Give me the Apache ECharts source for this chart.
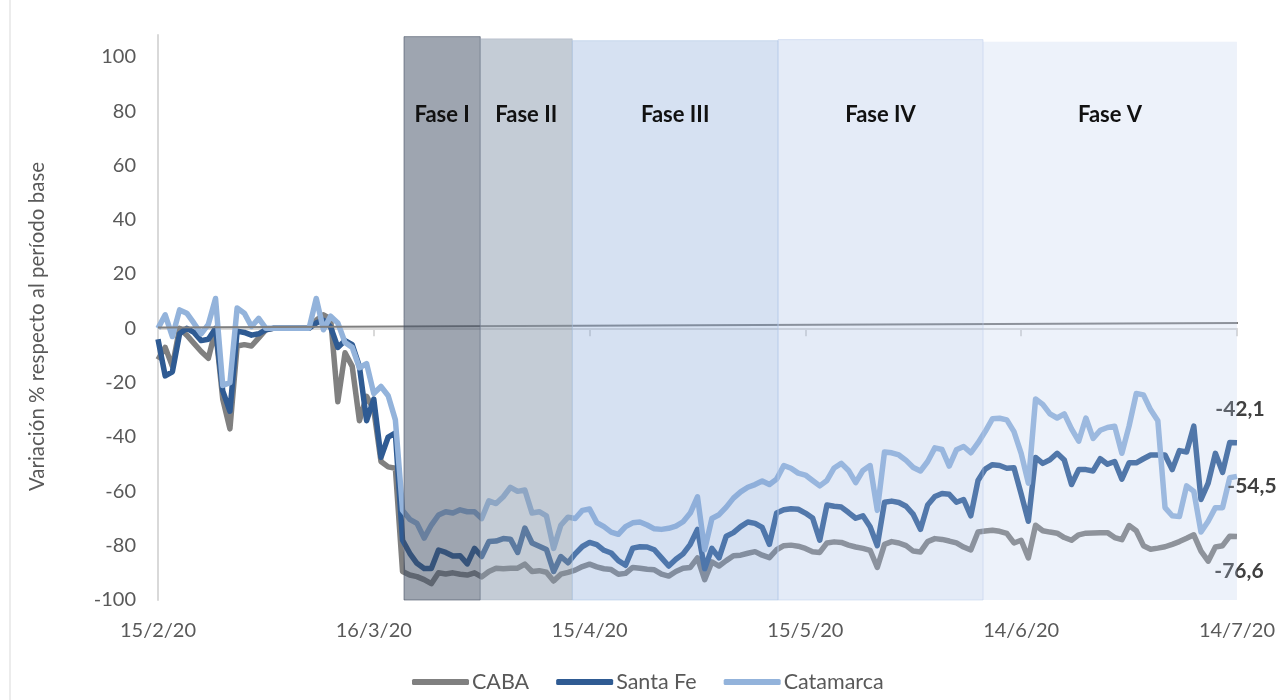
<!DOCTYPE html>
<html>
<head>
<meta charset="utf-8">
<script src="https://cdn.jsdelivr.net/npm/echarts@6/dist/echarts.min.js"></script>
<style>
  html, body { margin: 0; padding: 0; background: #fff; }
  #chart { width: 1278px; height: 700px; }
</style>
</head>
<body>
<div id="chart"></div>
<script>
// daily values, day 0 = 15/2/20 ... day 150 = 14/7/20
var caba = [
  -11.5, -7, -14, 0, -2.5, -5.5, -8.5, -11, -0.5, -26,
  -37, -6.5, -6, -6.5, -3.5, -0.5, 0, 0, 0, 0,
  0, 0, 3, 5, 3.5, -27, -9, -14, -34, -25,
  -30, -49, -51, -51.5, -89.5, -90.8, -91.4, -92.5, -94, -90,
  -90.4, -90, -90.5, -90.8, -90, -91.5, -89.5, -88.3, -88.5, -88.3,
  -88.3, -86.8, -89.5, -89.2, -89.8, -93, -90.5, -89.8, -89, -87.7,
  -86.8, -87.8, -88.5, -88.8, -90.5, -90.2, -88, -88.3, -88.7, -88.9,
  -90.5, -91.2, -89.5, -88.3, -88, -84.5, -92.5, -86, -87.5, -85.5,
  -83.7, -83.5, -82.8, -82.2, -83.5, -84.4, -81.5, -80, -79.8, -80.2,
  -81, -82.2, -82.5, -79, -78.6, -78.8, -79.8, -80.5, -81, -81.7,
  -88, -79.5, -78.5, -79, -80, -82, -82.3, -78.5, -77.4, -77.7,
  -78.3, -79, -80.5, -81.6, -75, -74.6, -74.3, -74.7, -75.5, -79,
  -78, -84.5, -72.5, -74.5, -75, -75.4, -77, -78, -76, -75.4,
  -75.3, -75.2, -75.2, -77, -77.8, -72.6, -74.5, -80, -81.3, -80.9,
  -80.4, -79.5, -78.5, -77.3, -76, -82, -85.7, -80.5, -80, -76.5,
  -76.6
];
var santaFe = [
  -4, -17.5, -16, -2, 0, -1.5, -4.5, -4, 0, -23,
  -30.5, -1, -1.5, -2.5, -2, -0.5, 0, 0, 0, 0,
  0, 0, 2, 3, 0.5, -7, -4.5, -6, -14, -34,
  -26, -47.5, -40, -38.5, -78, -82.8, -86.5, -88.4, -88.4, -81.6,
  -82.5, -83.8, -83.7, -86.7, -81, -84, -78.5, -78.3, -77.4, -77.6,
  -82.5, -73.5, -79, -80.2, -81.4, -89.5, -84, -86.3, -83, -80.3,
  -78.8, -79.6, -81.7, -82.7, -85.5, -87.2, -80.9, -80.4, -80.5, -81.5,
  -84.5, -87.5, -85, -83, -79.5, -74, -88.5, -81, -84.5, -76.5,
  -75.2, -73, -71.3, -71.8, -73.3, -79.5, -68, -66.8, -66.4, -66.6,
  -68, -69.8, -78, -65, -65.5, -65.8, -67.8, -69.9, -69, -73,
  -80, -64, -63.6, -64.1, -65.5, -68.5, -74, -65, -61.9, -60.8,
  -61.1, -64, -63, -69, -56, -51.8, -50.2, -50.5, -51.5, -51.3,
  -61, -71, -47.5, -49.7, -48.4, -46, -48.5, -57.5, -52, -52,
  -52.5, -48, -50, -49, -55.5, -49.5, -49.5, -48, -46.6, -46.6,
  -46.6, -52, -45, -45.5, -36, -63, -57, -46, -53, -42,
  -42.1
];
var catamarca = [
  0, 5, -3, 6.8, 5.6, 1.9, -2, 1.5, 11, -21,
  -20, 7.5, 5.6, 0.7, 3.7, 0, 0, 0, 0, 0,
  0, 0, 11, -0.5, 4.5, 2, -5.2, -7, -14.5, -13,
  -24, -21.4, -24.8, -33.7, -67, -70.3, -71.8, -77.2, -72.4, -68.7,
  -67.5, -68, -66.8, -67.5, -67.5, -70, -63.5, -64.5, -62, -58.5,
  -60, -59.5, -68, -67.5, -69, -81, -72.5, -69.5, -70, -67,
  -66.5, -71.5, -73, -75, -75.8, -73, -71.6, -71.3, -72.4, -73.8,
  -74, -73.6, -72.8, -71.2, -68, -62, -81.5, -70, -68.6, -65.8,
  -62.5, -60.2, -58.5, -57.5, -56.2, -57.5, -55.5, -50.5, -51.5, -53.3,
  -54, -56, -58, -56, -51.4, -49.7, -52.3, -56.8, -52.3, -50.5,
  -67, -45.5, -45.8, -46.6, -48.6, -51.2, -52.5, -49, -44, -44.6,
  -50.7, -44.7, -43.5, -45.8, -42.2, -38, -33.3, -33.1, -33.7, -38,
  -46, -57, -26, -28, -31.5, -33, -31.5, -37, -41.5, -33,
  -40.5, -37.5, -36.5, -36, -46, -36, -24, -24.5, -30, -34,
  -66, -69, -69.3, -58, -60, -75, -71, -66, -66, -55,
  -54.5
];
var seriesNames = ['CABA', 'Santa Fe', 'Catamarca'];
var tickLabels = ['15/2/20', '16/3/20', '15/4/20', '15/5/20', '14/6/20', '14/7/20'];
// phases in day units
var phaseNames = ['Fase I', 'Fase II', 'Fase III', 'Fase IV', 'Fase V'];
var phaseStart = [34.2, 44.8, 57.6, 86.2, 114.7];
var phaseEnd = [44.8, 57.6, 86.2, 114.7, 150.4];
var phaseTop = [107.4, 106.6, 105.9, 106.3, 105.5];
// reference line (day, value)
var zeroLine = [[0, 0.3], [154.6, 2]];

var colors = ['#808080', '#2f5b93', '#93b3db'];
var phaseColors = ['rgba(62,76,98,0.5)', 'rgba(137,153,173,0.5)', 'rgba(138,169,218,0.35)',
                   'rgba(165,188,228,0.3)', 'rgba(183,203,235,0.25)'];
var phaseBorders = ['rgba(70,80,100,0.6)', 'rgba(150,160,175,0.3)', 'rgba(170,195,230,0.5)',
                    'rgba(190,208,235,0.5)', 'rgba(0,0,0,0)'];
var endOffsets = [[2, 35], [3, -33], [15, 10]];

var font = 'Lato, "Open Sans", sans-serif';
var gridTop = 35, gridBottom = 100, yMin = -100, yMax = 108;
var pxPerUnit = (700 - gridTop - gridBottom) / (yMax - yMin);
var labelTopPx = 104; // all phase titles on one line

function toPoints(vals) {
  return vals.map(function (v, i) { return [i, v]; });
}

var chart = echarts.init(document.getElementById('chart'));

var lineSeries = [caba, santaFe, catamarca].map(function (vals, k) {
  return {
    name: seriesNames[k],
    type: 'line',
    data: toPoints(vals),
    showSymbol: false,
    symbol: 'none',
    z: 2,
    lineStyle: { width: 5.5, color: colors[k], join: 'round' },
    itemStyle: { color: colors[k] },
    endLabel: {
      show: true,
      align: 'center',
      verticalAlign: 'middle',
      distance: 0,
      offset: endOffsets[k],
      color: '#404040',
      fontFamily: font,
      fontWeight: 'bold',
      fontSize: 21,
      formatter: function (p) { return p.value[1].toFixed(1).replace('.', ','); }
    }
  };
});

var areas = phaseNames.map(function (n, i) {
  var topPx = gridTop + (yMax - phaseTop[i]) * pxPerUnit;
  return [
    {
      name: n,
      xAxis: phaseStart[i],
      yAxis: -100,
      itemStyle: { color: phaseColors[i], borderColor: phaseBorders[i], borderWidth: 1 },
      label: { distance: labelTopPx - topPx }
    },
    { xAxis: phaseEnd[i], yAxis: phaseTop[i] }
  ];
});

var option = {
  backgroundColor: '#fff',
  animation: false,
  grid: { left: 158, right: 41, top: gridTop, bottom: gridBottom },
  legend: {
    data: seriesNames,
    left: 412,
    top: 671,
    icon: 'roundRect',
    itemWidth: 57,
    itemHeight: 6,
    itemGap: 27,
    padding: 0,
    textStyle: { color: '#595959', fontSize: 21.5, fontFamily: font, padding: [0, 0, 0, -2] }
  },
  xAxis: {
    type: 'value',
    min: 0,
    max: 150,
    interval: 30,
    axisLine: { show: true, lineStyle: { color: '#d9d9d9', width: 2 } },
    axisTick: { show: true, length: 8, lineStyle: { color: '#d9d9d9', width: 2 } },
    splitLine: { show: false },
    axisLabel: {
      color: '#595959',
      fontSize: 20,
      fontFamily: font,
      margin: 21,
      formatter: function (v) { return tickLabels[Math.round(v / 30)]; }
    }
  },
  yAxis: {
    type: 'value',
    min: yMin,
    max: yMax,
    interval: 20,
    name: 'Variación % respecto al período base',
    nameLocation: 'middle',
    nameGap: 110,
    nameTextStyle: { color: '#595959', fontSize: 20.5, fontFamily: font, padding: [0, 18, 0, 0] },
    axisLine: { show: true, lineStyle: { color: '#d9d9d9', width: 2 } },
    axisTick: { show: false },
    splitLine: { show: false },
    axisLabel: {
      color: '#595959',
      fontSize: 20,
      fontFamily: font,
      margin: 22,
      showMaxLabel: false
    }
  },
  series: lineSeries.concat([{
    name: 'ref',
    type: 'line',
    data: zeroLine,
    showSymbol: false,
    symbol: 'none',
    clip: false,
    silent: true,
    z: 3,
    lineStyle: { width: 2, color: '#7f7f7f' },
    markArea: {
      silent: true,
      z: 5,
      label: {
        show: true,
        position: 'insideTop',
        color: '#111',
        fontFamily: font,
        fontWeight: 'bold',
        fontSize: 22
      },
      data: areas
    }
  }]),
  graphic: [{
    type: 'line',
    shape: { x1: 10, y1: 0, x2: 10, y2: 700 },
    style: { stroke: '#d9d9d9', lineWidth: 1 },
    silent: true
  }]
};

chart.setOption(option);
</script>
</body>
</html>
